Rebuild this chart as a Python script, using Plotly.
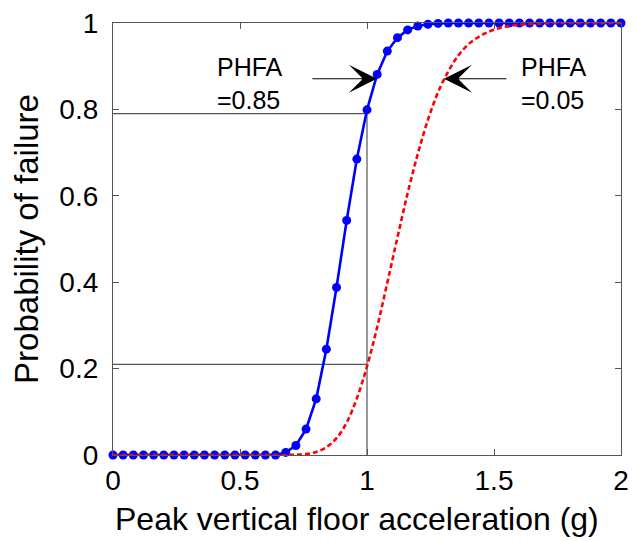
import plotly.graph_objects as go

# ---- data ----
pga = [round(0.04 * i, 2) for i in range(51)]  # x positions (g), 0..2 step 0.04

p_fail_085 = [0.0] * 17 + [0.006, 0.022, 0.06, 0.13, 0.245, 0.388, 0.543, 0.685,
                           0.799, 0.881, 0.935, 0.966, 0.984, 0.993, 0.997, 0.999] + [1.0] * 18

p_fail_005 = [0.0] * 17 + [0.0001, 0.0006, 0.002, 0.007, 0.018, 0.039, 0.075, 0.131,
                           0.205, 0.296, 0.399, 0.504, 0.606, 0.697, 0.776, 0.840,
                           0.888, 0.925, 0.951, 0.968, 0.980, 0.988, 0.993, 0.996,
                           0.998, 0.999] + [1.0] * 8

ref_x = 1.0
ref_p_high = 0.79
ref_p_low = 0.21

x_ticks = [0, 0.5, 1, 1.5, 2]
x_ticklabels = ["0", "0.5", "1", "1.5", "2"]
y_ticks = [0, 0.2, 0.4, 0.6, 0.8, 1]
y_ticklabels = ["0", "0.2", "0.4", "0.6", "0.8", "1"]

arrow_tip_085 = (1.039, 0.871)
arrow_tip_005 = (1.303, 0.871)
label_085 = "PHFA<br>=0.85"
label_005 = "PHFA<br>=0.05"
x_title = "Peak vertical floor acceleration (g)"
y_title = "Probability of failure"

FONT = "Liberation Sans, Arial, sans-serif"
GRAY = "#555555"

fig = go.Figure()

fig.add_trace(go.Scatter(
    x=pga, y=p_fail_085, mode="lines+markers",
    line=dict(color="#0000ff", width=2.6),
    marker=dict(color="#0000ff", size=9),
    cliponaxis=False, showlegend=False))

fig.add_trace(go.Scatter(
    x=pga, y=p_fail_005, mode="lines",
    line=dict(color="#ff0000", width=2.6, dash="5px,3px", shape="spline"),
    cliponaxis=False, showlegend=False))

# reference lines
fig.add_shape(type="line", xref="x", yref="y", x0=0, x1=ref_x, y0=ref_p_high, y1=ref_p_high,
              line=dict(color=GRAY, width=1.2), layer="below")
fig.add_shape(type="line", xref="x", yref="y", x0=0, x1=ref_x, y0=ref_p_low, y1=ref_p_low,
              line=dict(color=GRAY, width=1.2), layer="below")
fig.add_shape(type="line", xref="x", yref="y", x0=ref_x, x1=ref_x, y0=0, y1=ref_p_high,
              line=dict(color=GRAY, width=1.2), layer="below")

# arrows
fig.add_annotation(x=arrow_tip_085[0], y=arrow_tip_085[1], ax=-66, ay=0, text="",
                   showarrow=True, arrowhead=3, arrowsize=3.9, arrowwidth=1.2,
                   arrowcolor="black", standoff=0)
fig.add_annotation(x=arrow_tip_005[0], y=arrow_tip_005[1], ax=64, ay=0, text="",
                   showarrow=True, arrowhead=3, arrowsize=3.9, arrowwidth=1.2,
                   arrowcolor="black", standoff=0)

# labels
fig.add_annotation(x=0.40, y=0.859, xanchor="left", yanchor="middle", align="left",
                   text=label_085, showarrow=False,
                   font=dict(family=FONT, size=25, color="black"))
fig.add_annotation(x=1.598, y=0.859, xanchor="left", yanchor="middle", align="left",
                   text=label_005, showarrow=False,
                   font=dict(family=FONT, size=25, color="black"))

# x-axis title (slightly left of plot centre, as in the reference)
fig.add_annotation(xref="paper", yref="paper", x=0.48, y=-0.148,
                   xanchor="center", yanchor="middle", text=x_title, showarrow=False,
                   font=dict(family=FONT, size=32, color="black"))

axis_common = dict(
    showline=True, mirror="ticks", linecolor=GRAY, linewidth=1.2,
    ticks="inside", ticklen=6, tickcolor=GRAY, tickwidth=1.2,
    showgrid=False, zeroline=False,
    tickfont=dict(family=FONT, size=28, color="black"),
)

fig.update_xaxes(range=[0, 2], tickvals=x_ticks, ticktext=x_ticklabels,
                 ticklabelstandoff=0, **axis_common)
fig.update_yaxes(range=[0, 1], tickvals=y_ticks, ticktext=y_ticklabels,
                 title=dict(text=y_title,
                            font=dict(family=FONT, size=33, color="black"), standoff=10),
                 ticklabelstandoff=8, **axis_common)

fig.update_layout(
    width=641, height=541,
    margin=dict(l=113, r=20, t=23, b=86, autoexpand=False),
    paper_bgcolor="white", plot_bgcolor="white",
    font=dict(family=FONT),
)

fig.write_html("out.html")
